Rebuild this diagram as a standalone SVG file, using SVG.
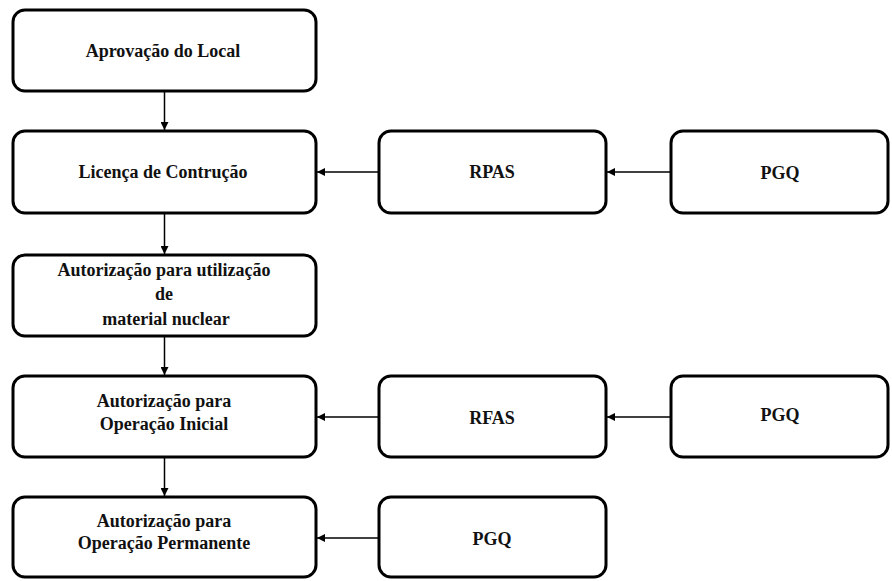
<svg xmlns="http://www.w3.org/2000/svg" width="892" height="581" viewBox="0 0 892 581">
<style>
.box{fill:#fff;stroke:#000;stroke-width:3}
.lbl{font-family:"Liberation Serif","Times New Roman",serif;font-weight:bold;font-size:18px;fill:#111;text-anchor:middle}
.con{stroke:#000;stroke-width:1.5;fill:none;marker-end:url(#ah)}
</style>
<defs>
<marker id="ah" viewBox="0 0 10 10" refX="10" refY="5" markerWidth="8" markerHeight="8" markerUnits="userSpaceOnUse" orient="auto">
<path d="M0,0 L10,5 L0,10 z" fill="#000"/>
</marker>
</defs>
<rect width="892" height="581" fill="#fff"/>
<g id="connectors">
<line class="con" x1="164.5" y1="92" x2="164.5" y2="130"/>
<line class="con" x1="164.5" y1="214" x2="164.5" y2="254"/>
<line class="con" x1="164.5" y1="337" x2="164.5" y2="375"/>
<line class="con" x1="164.5" y1="458" x2="164.5" y2="496"/>
<line class="con" x1="379" y1="172" x2="317" y2="172"/>
<line class="con" x1="671" y1="172" x2="607" y2="172"/>
<line class="con" x1="379" y1="417" x2="317" y2="417"/>
<line class="con" x1="671" y1="417" x2="607" y2="417"/>
<line class="con" x1="379" y1="538" x2="317" y2="538"/>
</g>
<g id="n1"><rect class="box" x="13" y="10" width="303" height="81" rx="12"/><text class="lbl" x="163" y="57">Aprovação do Local</text></g>
<g id="n2"><rect class="box" x="13" y="131" width="303" height="82" rx="12"/><text class="lbl" x="163" y="178">Licença de Contrução</text></g>
<g id="n3"><rect class="box" x="379" y="131" width="227" height="82" rx="12"/><text class="lbl" x="492" y="178">RPAS</text></g>
<g id="n4"><rect class="box" x="671" y="131" width="217" height="82" rx="12"/><text class="lbl" x="780" y="179">PGQ</text></g>
<g id="n5"><rect class="box" x="13" y="255" width="303" height="81" rx="12"/><text class="lbl" x="164" y="276">Autorização para utilização</text><text class="lbl" x="164" y="300">de</text><text class="lbl" x="166" y="325">material nuclear</text></g>
<g id="n6"><rect class="box" x="13" y="376" width="303" height="81" rx="12"/><text class="lbl" x="164" y="407">Autorização para</text><text class="lbl" x="164" y="430">Operação Inicial</text></g>
<g id="n7"><rect class="box" x="379" y="376" width="227" height="81" rx="12"/><text class="lbl" x="492" y="424">RFAS</text></g>
<g id="n8"><rect class="box" x="671" y="376" width="217" height="81" rx="12"/><text class="lbl" x="780" y="421">PGQ</text></g>
<g id="n9"><rect class="box" x="13" y="497" width="303" height="80" rx="12"/><text class="lbl" x="164" y="527">Autorização para</text><text class="lbl" x="164" y="549">Operação Permanente</text></g>
<g id="n10"><rect class="box" x="379" y="497" width="227" height="80" rx="12"/><text class="lbl" x="492" y="545">PGQ</text></g>
</svg>
